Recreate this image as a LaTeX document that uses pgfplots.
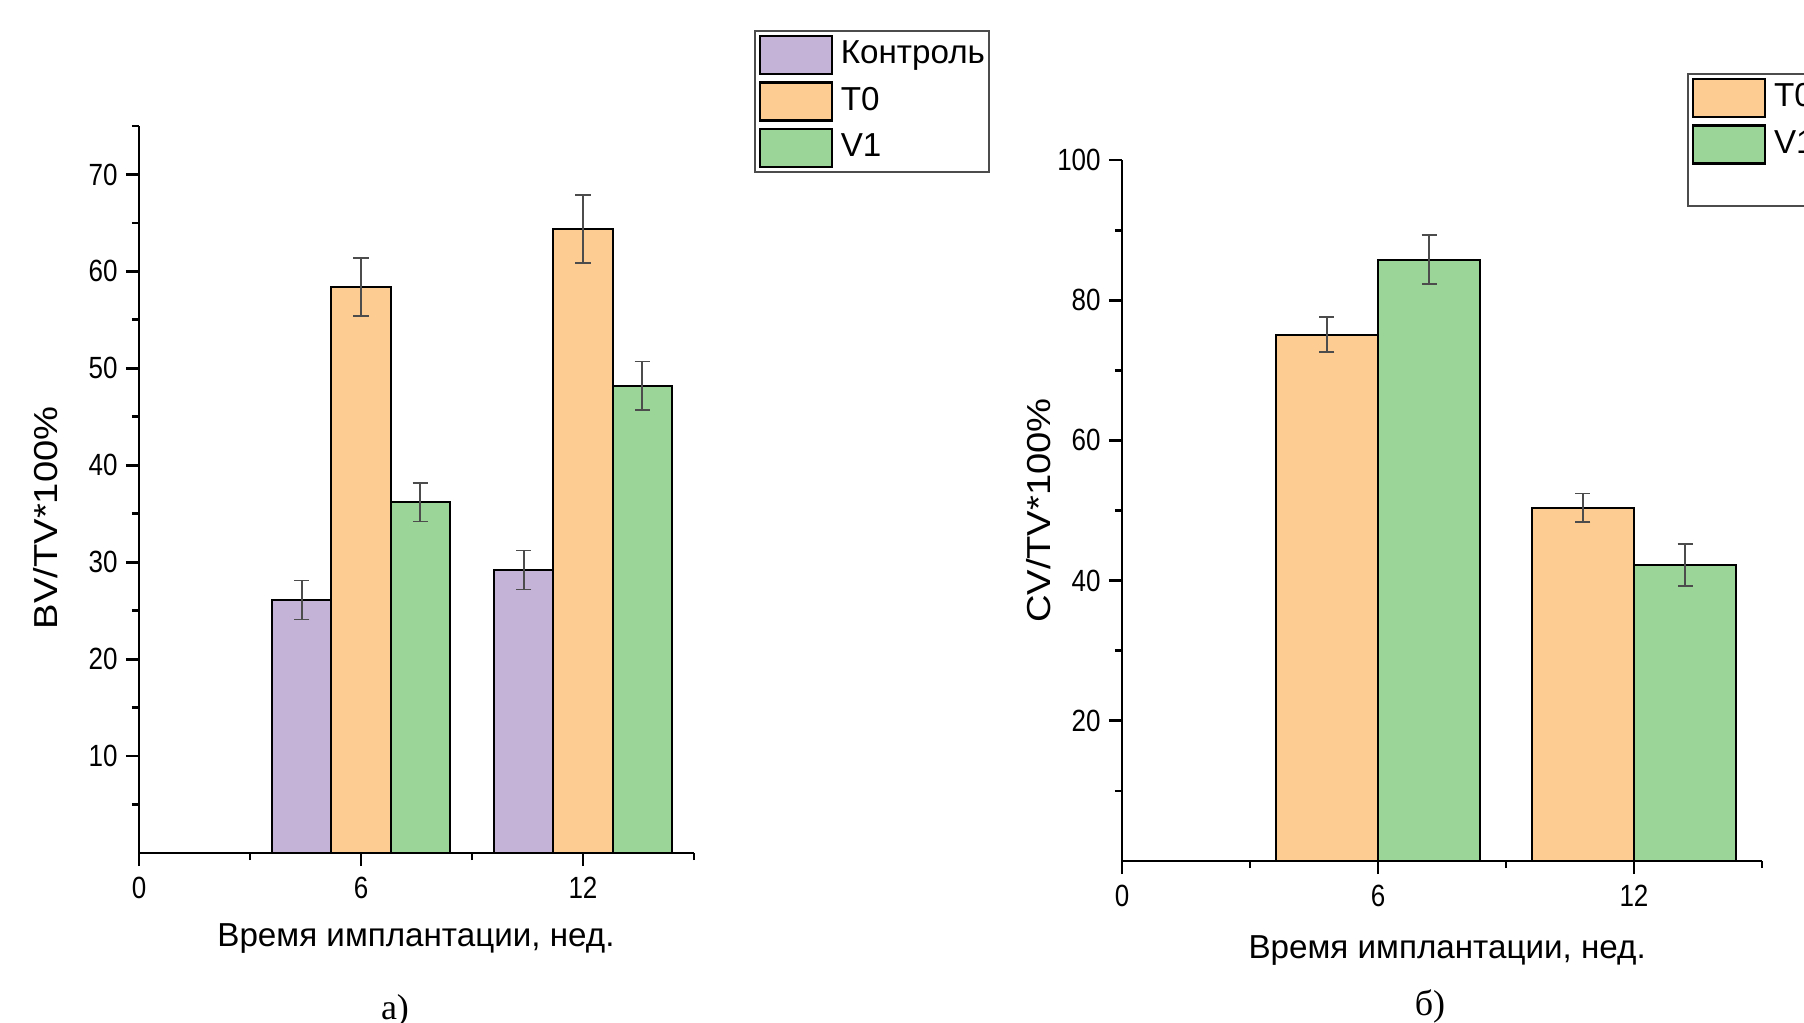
\documentclass[border=0pt]{standalone}
\usepackage{pgfplots}
\pgfplotsset{compat=1.18}
\usepackage{fontspec}
\setmainfont{Liberation Sans}
\newfontfamily\capfont{Liberation Serif}
\definecolor{ctrl}{RGB}{196,179,214}
\definecolor{tzero}{RGB}{253,204,146}
\definecolor{vone}{RGB}{155,213,152}
\pgfplotsset{
  common/.style={
    scale only axis,
    axis lines=left,
    axis line style={-, line width=0.7pt},
    xmin=0, xmax=15, ymin=0,
    tick align=outside,
    major tick length=3.3pt,
    minor tick length=1.8pt,
    every tick/.style={line width=0.7pt, black},
    xtick={0,6,12}, minor xtick={3,9,15},
    tick label style={font=\fontsize{6.5}{7}\selectfont, yscale=1.18},
    yticklabel style={xshift=1.5pt},
    xticklabel style={yshift=1.2pt},
    /pgf/number format/assume math mode=true,
    label style={font=\fontsize{8.3}{10}\selectfont},
    legend style={draw=gray!60!black, line width=0.45pt, anchor=north west,
      font=\fontsize{8.3}{10}\selectfont, inner xsep=1pt, inner ysep=1pt,
      row sep=1.5pt, column sep=1.9pt, nodes={inner ysep=0.75pt, inner xsep=0pt}, cells={anchor=west}},
  },
  mybar/.style={ybar, bar shift=0pt, draw=black, line width=0.5pt,
    error bars/y dir=both, error bars/y explicit,
    error bars/error bar style={line width=0.4pt, black!70},
    error bars/error mark options={rotate=90, mark size=1.9pt, line width=0.4pt, black!70},
  },
  leg/.style={legend image code/.code={\draw[##1, line width=0.6pt] (0pt,-4.75pt) rectangle (18pt,4.75pt);}},
}
\begin{document}
\begin{tikzpicture}
\path[use as bounding box, clip] (0,0) rectangle (451pt,255.5pt);
% left panel
\begin{axis}[common,
  at={(34.75pt,42.25pt)}, anchor=south west,
  width=138.75pt, height=181.75pt,
  ymax=75, ytick={10,20,...,70}, minor ytick={5,15,...,75},
  xlabel={Время имплантации, нед.},
  ylabel={BV/TV*100\%},
  xlabel style={at={(axis description cs:0.499,-0.117)}, anchor=center},
  ylabel style={at={(axis description cs:-0.168,0.461)}, anchor=center, xscale=1.15},
  legend style={at={(axis description cs:1.108,1.132)}},
]
\addplot[mybar, bar width=1.6, fill=ctrl, leg] coordinates {(4.4,26.1) +- (0,2.0) (10.4,29.2) +- (0,2.0)};
\addplot[mybar, bar width=1.6, fill=tzero, leg] coordinates {(6.0,58.4) +- (0,3.0) (12.0,64.4) +- (0,3.5)};
\addplot[mybar, bar width=1.6, fill=vone, leg] coordinates {(7.6,36.2) +- (0,2.0) (13.6,48.2) +- (0,2.5)};
\legend{Контроль, T0, V1}
\end{axis}
% right panel
\begin{axis}[common,
  at={(280.5pt,40.25pt)}, anchor=south west,
  width=160pt, height=175.25pt,
  ymax=100, ytick={20,40,60,80,100}, minor ytick={10,30,50,70,90},
  xlabel={Время имплантации, нед.},
  ylabel={CV/TV*100\%},
  xlabel style={at={(axis description cs:0.508,-0.127)}, anchor=center},
  ylabel style={at={(axis description cs:-0.131,0.5)}, anchor=center, xscale=1.15},
  legend style={at={(axis description cs:0.883,1.124)}},
]
\addplot[mybar, bar width=2.4, fill=tzero, leg] coordinates {(4.8,75.1) +- (0,2.5) (10.8,50.4) +- (0,2.0)};
\addplot[mybar, bar width=2.4, fill=vone, leg] coordinates {(7.2,85.8) +- (0,3.5) (13.2,42.2) +- (0,3.0)};
\addlegendimage{empty legend}
\legend{T0, V1, \rule[-4.75pt]{0pt}{9.5pt}}
\end{axis}
\node[anchor=base, font=\capfont\fontsize{9}{10}\selectfont] at (98.75pt,0.75pt) {а)};
\node[anchor=base, font=\capfont\fontsize{9}{10}\selectfont] at (357.5pt,1.75pt) {б)};
\end{tikzpicture}
\end{document}
